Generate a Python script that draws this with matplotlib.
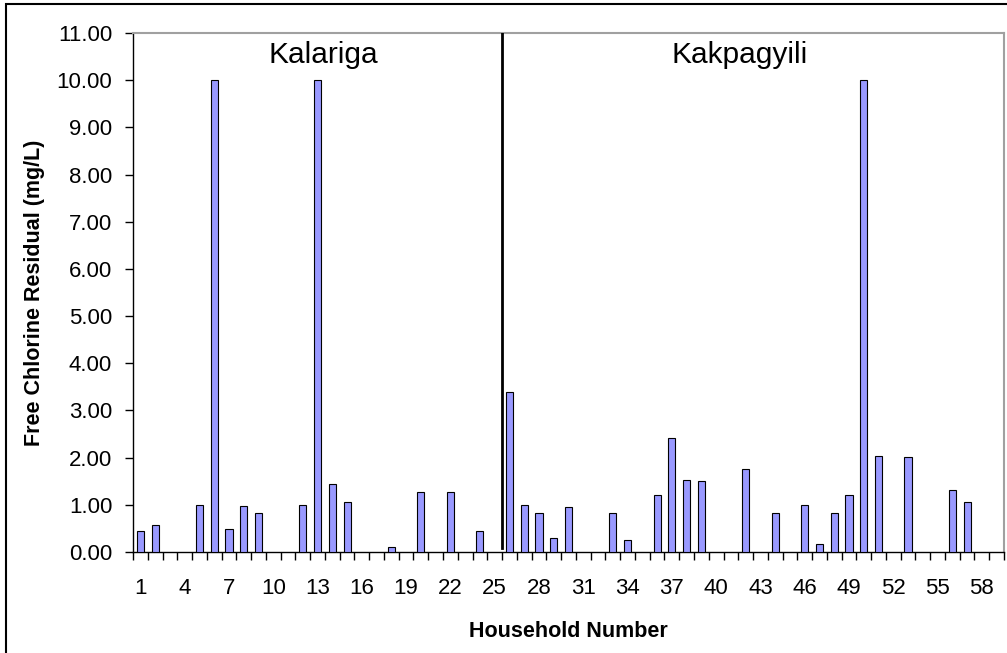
import matplotlib
matplotlib.use('Agg')
import matplotlib.pyplot as plt
import numpy as np
from matplotlib.patches import Rectangle

plt.rcParams['font.family'] = ['Liberation Sans', 'DejaVu Sans']
plt.rcParams['xtick.major.pad'] = 18.5
plt.rcParams['ytick.major.pad'] = 9

# household numbers 1..59 (59 is an empty slot at the end of the axis)
households = np.arange(1, 60)

# free chlorine residual per household, mg/L (None = no reading)
chlorine = [0.45, 0.58, None, None, 1.00, 10.00, 0.49, 0.98, 0.82, None,
            None, 1.00, 10.00, 1.44, 1.06, None, None, 0.10, None, 1.28,
            None, 1.28, None, 0.45, None, 3.39, 1.00, 0.82, 0.30, 0.96,
            None, None, 0.82, 0.25, None, 1.20, 2.41, 1.53, 1.50, None,
            None, 1.75, None, 0.83, None, 1.00, 0.18, 0.82, 1.20, 10.00,
            2.04, None, 2.01, None, None, 1.31, 1.07, None, None]

villages = ['Kalariga', 'Kakpagyili']
village_label_x = [13.4, 41.6]
village_split = 25.5

tick_labels = list(range(1, 59, 3))
y_ticks = np.arange(0, 12, 1)

fig = plt.figure(figsize=(10.07, 6.53), dpi=100)
ax = fig.add_axes([133 / 1007, 1 - 552 / 653, (1004 - 133) / 1007, (552 - 33) / 653])

vals = np.array([np.nan if v is None else v for v in chlorine])
mask = ~np.isnan(vals)
ax.bar(households[mask], vals[mask], width=0.48, color='#9999FF',
       edgecolor='black', linewidth=0.8, zorder=3)

# divider between the two communities
ax.plot([village_split, village_split], [0.08, 11], color='black', lw=2, zorder=4)

for name, xv in zip(villages, village_label_x):
    ax.text(xv, 10.37, name, ha='center', va='baseline', fontsize=21.5)

ax.set_xlim(0.5, 59.5)
ax.set_ylim(0, 11)
ax.set_yticks(y_ticks)
ax.set_yticklabels(['%.2f' % v for v in y_ticks])

ax.set_xticks(tick_labels)
ax.set_xticklabels([str(t) for t in tick_labels])
ax.set_xticks(np.arange(0.5, 60, 1), minor=True)
ax.tick_params(axis='x', which='major', length=0, labelsize=16)
ax.tick_params(axis='x', which='minor', length=6, width=1, direction='out')
ax.tick_params(axis='y', length=6, width=1, direction='out', labelsize=16)

for side in ['left', 'bottom']:
    ax.spines[side].set_color('black')
    ax.spines[side].set_linewidth(1)
for side in ['top', 'right']:
    ax.spines[side].set_color('#A0A0A0')
    ax.spines[side].set_linewidth(1.5)

ax.set_xlabel('Household Number', fontsize=15.5, fontweight='bold')
ax.set_ylabel('Free Chlorine Residual (mg/L)', fontsize=15.5, fontweight='bold')
ax.xaxis.set_label_coords(0.5, -0.133)
ax.yaxis.set_label_coords(-0.101, 0.5)

# outer chart frame
fig.patches.append(Rectangle((6 / 1007, -0.1), 1.2, (651 - 2) / 653 + 0.1,
                             transform=fig.transFigure, fill=False,
                             edgecolor='black', linewidth=1.5))

fig.savefig('out.png', dpi=100)
